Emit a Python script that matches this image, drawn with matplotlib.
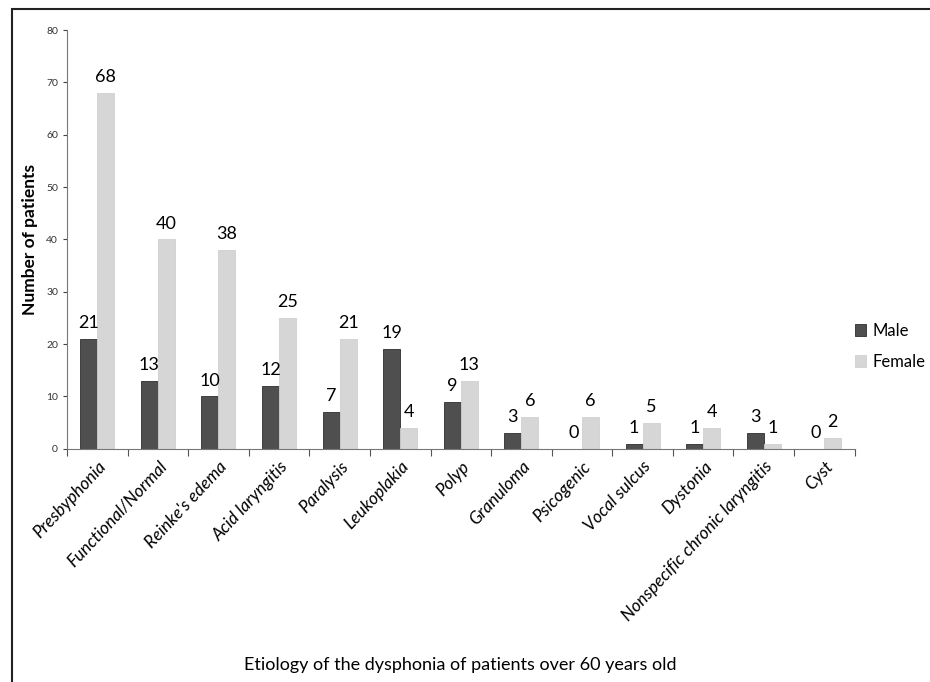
import numpy as np
import matplotlib
matplotlib.use("Agg")
import matplotlib.pyplot as plt
from matplotlib.patches import Rectangle

categories = ["Presbyphonia", "Functional/Normal", "Reinke's edema", "Acid laryngitis",
              "Paralysis", "Leukoplakia", "Polyp", "Granuloma", "Psicogenic",
              "Vocal sulcus", "Dystonia", "Nonspecific chronic laryngitis", "Cyst"]
male = [21, 13, 10, 12, 7, 19, 9, 3, 0, 1, 1, 3, 0]
female = [68, 40, 38, 25, 21, 4, 13, 6, 6, 5, 4, 1, 2]

plt.rcParams["font.family"] = ["Lato", "DejaVu Sans"]

fig = plt.figure(figsize=(9.3, 6.82), dpi=100)
ax = fig.add_axes([0.072, 0.342, 0.847, 0.614])

x = np.arange(len(categories))
w = 0.28
b1 = ax.bar(x - w / 2, male, w, color="#4f4f4f", edgecolor="#2e2e2e", linewidth=0.6, label="Male")
b2 = ax.bar(x + w / 2, female, w, color="#d6d6d6", edgecolor="#d0d0d0", linewidth=0.6, label="Female")

for rect, v in zip(b1, male):
    ax.text(rect.get_x() + rect.get_width() / 2, v + 1.5, str(v), ha="center", va="bottom",
            fontsize=13)
for rect, v in zip(b2, female):
    ax.text(rect.get_x() + rect.get_width() / 2, v + 1.5, str(v), ha="center", va="bottom",
            fontsize=13)

ax.set_xlim(-0.5, len(categories) - 0.5)
ax.set_ylim(0, 80)
ax.set_yticks(range(0, 81, 10))
ax.tick_params(axis="y", labelsize=7.5, length=3, colors="#444444", labelcolor="#333333")
ax.set_xticks(np.arange(-0.5, len(categories), 1.0))
ax.set_xticklabels([])
ax.tick_params(axis="x", length=5, colors="#555555")
ax.set_xticks(x, minor=True)
ax.set_xticklabels(categories, minor=True, rotation=47, ha="right", rotation_mode="anchor",
                   fontsize=12.5, style="italic")
ax.tick_params(axis="x", which="minor", length=0, pad=7)

for s in ["top", "right"]:
    ax.spines[s].set_visible(False)
ax.spines["left"].set_color("#777777")
ax.spines["bottom"].set_color("#777777")

ax.set_ylabel("Number of patients", fontsize=12.5, fontweight="bold", labelpad=6)
fig.text(0.495, 0.025, "Etiology of the dysphonia of patients over 60 years old",
         ha="center", va="center", fontsize=13)

ax.legend(loc="center left", bbox_to_anchor=(1.0, 0.245), frameon=False, fontsize=12,
          handlelength=0.7, handleheight=0.7, handletextpad=0.35, labelspacing=0.9,
          borderpad=0, borderaxespad=0)

fig.patches.append(Rectangle((0.013, -0.01), 1.0, 0.997, transform=fig.transFigure,
                             fill=False, edgecolor="#222222", linewidth=1.5))

fig.savefig("out.png", dpi=100)
